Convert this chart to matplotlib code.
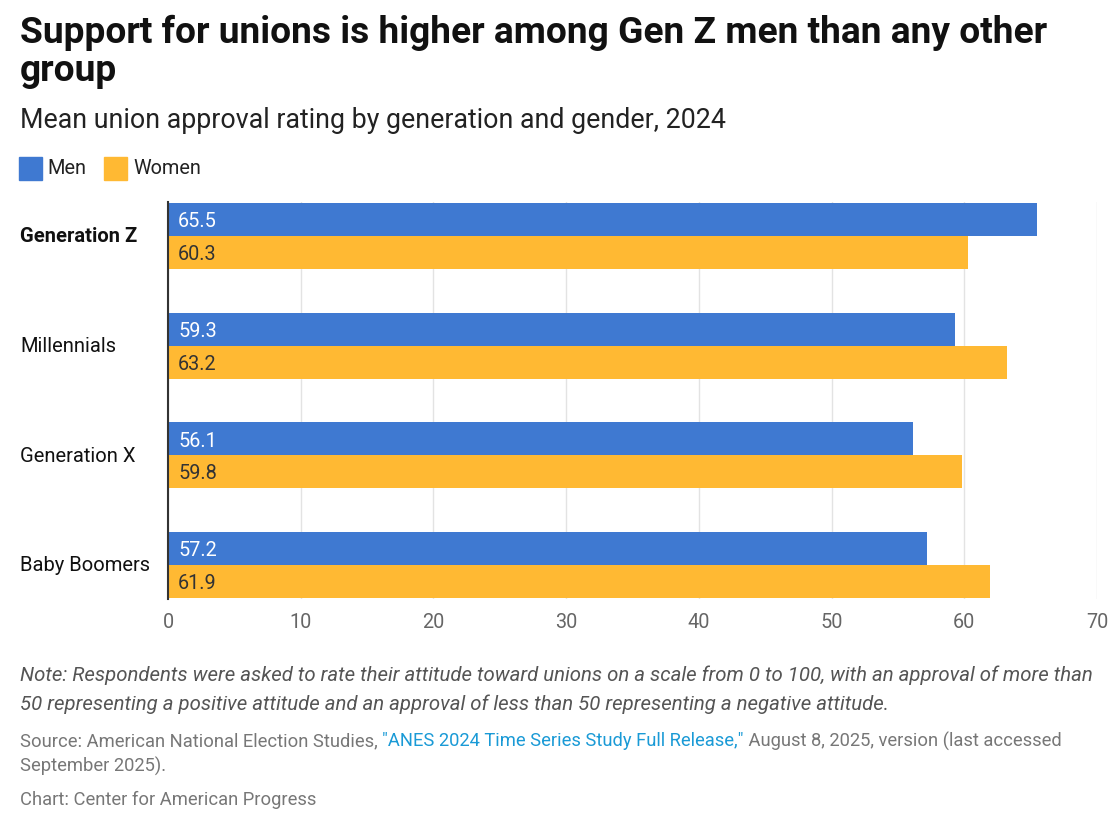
import matplotlib.pyplot as plt
import numpy as np

plt.rcParams['font.family'] = ['Roboto', 'DejaVu Sans']

generations = ['Generation Z', 'Millennials', 'Generation X', 'Baby Boomers']
men = [65.5, 59.3, 56.1, 57.2]
women = [60.3, 63.2, 59.8, 61.9]
ticks = [0, 10, 20, 30, 40, 50, 60, 70]

blue = '#3f79d1'
yellow = '#ffb933'

fig = plt.figure(figsize=(11.2, 8.34), dpi=100)
ax = fig.add_axes([168 / 1120, 1 - 599 / 834, (1097 - 168) / 1120, 397 / 834])

y = np.arange(len(generations))
h = 0.30
ax.barh(y - h / 2, men, height=h, color=blue, zorder=3)
ax.barh(y + h / 2, women, height=h, color=yellow, zorder=3)

for i in range(len(generations)):
    ax.text(0.75, y[i] - h / 2 + 0.02, f'{men[i]:.1f}', color='white', va='center',
            ha='left', fontsize=14.3, zorder=4)
    ax.text(0.75, y[i] + h / 2 + 0.02, f'{women[i]:.1f}', color='#333333', va='center',
            ha='left', fontsize=14.3, zorder=4)

ax.set_xlim(0, 70)
ax.set_ylim(3 + h + 0.01, -h - 0.01)
ax.set_xticks(ticks)
ax.set_xticklabels([str(t) for t in ticks], fontsize=14.3, color='#666666')
ax.set_yticks([])
ax.tick_params(axis='x', length=0, pad=10)
ax.grid(axis='x', color='#e3e3e3', linewidth=1, zorder=0)
for s in ['top', 'right', 'bottom']:
    ax.spines[s].set_visible(False)
ax.spines['left'].set_color('#333333')
ax.spines['left'].set_linewidth(1.5)
ax.spines['left'].set_zorder(5)

# category labels at the left edge of the figure
for i, g in enumerate(generations):
    ax.text(20 / 1120, 1 - (237 + i * 109.5) / 834, g, transform=fig.transFigure,
            fontsize=14.5, va='center', ha='left', color='#111111',
            fontweight='bold' if i == 0 else 'normal')

fig.text(20 / 1120, 1 - 15 / 834, 'Support for unions is higher among Gen Z men than any other\ngroup',
         fontsize=26.7, fontweight='bold', va='top', ha='left', color='#111111', linespacing=1.06)
fig.text(20 / 1120, 1 - 120 / 834, 'Mean union approval rating by generation and gender, 2024',
         fontsize=19.3, va='center', ha='left', color='#222222')

# legend
fig.patches.append(plt.Rectangle((19 / 1120, 1 - 180 / 834), 23 / 1120, 23 / 834,
                                 transform=fig.transFigure, color=blue))
fig.text(47 / 1120, 1 - 168 / 834, 'Men', fontsize=14.3, va='center', color='#222222')
fig.patches.append(plt.Rectangle((104 / 1120, 1 - 180 / 834), 23 / 1120, 23 / 834,
                                 transform=fig.transFigure, color=yellow))
fig.text(133 / 1120, 1 - 168 / 834, 'Women', fontsize=14.3, va='center', color='#222222')

# footer
note = ('Note: Respondents were asked to rate their attitude toward unions on a scale from 0 to 100, '
        'with an approval of more than\n50 representing a positive attitude and an approval of less '
        'than 50 representing a negative attitude.')
fig.text(20 / 1120, 1 - 690 / 834, note, fontsize=14.7, style='italic', color='#555555',
         va='center', ha='left', linespacing=1.6)

src_y = 1 - 741 / 834
t1 = fig.text(20 / 1120, src_y, 'Source: American National Election Studies, ', fontsize=13.2,
              color='#777777', va='center', ha='left')
fig.canvas.draw()
r = fig.canvas.get_renderer()
bb = t1.get_window_extent(r)
t2 = fig.text(bb.x1 / 1120, src_y, '"ANES 2024 Time Series Study Full Release,"', fontsize=13.2,
              color='#1a9ad6', va='center', ha='left')
bb2 = t2.get_window_extent(r)
fig.text(bb2.x1 / 1120, src_y, ' August 8, 2025, version (last accessed', fontsize=13.2,
         color='#777777', va='center', ha='left')
fig.text(20 / 1120, 1 - 766 / 834, 'September 2025).', fontsize=13.2, color='#777777',
         va='center', ha='left')
fig.text(20 / 1120, 1 - 800 / 834, 'Chart: Center for American Progress', fontsize=13.2,
         color='#777777', va='center', ha='left')

fig.savefig('out.png', dpi=100)
